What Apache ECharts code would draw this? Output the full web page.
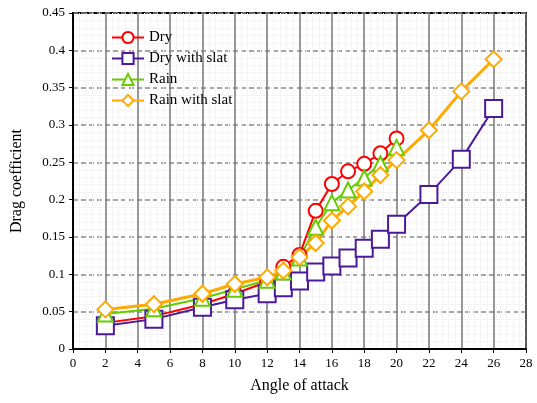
<!doctype html>
<html>
<head>
  <meta charset="UTF-8" />
  <title>Drag coefficient</title>
  <script src="https://cdn.jsdelivr.net/npm/echarts@6/dist/echarts.min.js"></script>
  <style>
    html, body { margin: 0; padding: 0; background: #fff; }
    #chart { width: 537px; height: 403px; }
  </style>
</head>
<body>
  <div id="chart"></div>
  <script>
    // angles of attack
    const anglesShort = [2, 5, 8, 10, 12, 13, 14, 15, 16, 17, 18, 19, 20];
    const anglesLong = [2, 5, 8, 10, 12, 13, 14, 15, 16, 17, 18, 19, 20, 22, 24, 26];
    // drag coefficients
    const dry = [0.035, 0.044, 0.060, 0.074, 0.090, 0.110, 0.126, 0.185, 0.221, 0.238, 0.248, 0.262, 0.282];
    const drySlat = [0.031, 0.040, 0.056, 0.066, 0.074, 0.082, 0.091, 0.103, 0.111, 0.122, 0.135, 0.147, 0.167, 0.207, 0.254, 0.322];
    const rain = [0.047, 0.054, 0.068, 0.080, 0.092, 0.103, 0.122, 0.163, 0.196, 0.213, 0.229, 0.248, 0.270];
    const rainSlat = [0.053, 0.060, 0.074, 0.087, 0.096, 0.105, 0.123, 0.142, 0.172, 0.191, 0.211, 0.233, 0.253, 0.293, 0.345, 0.388];

    const font = '"Liberation Serif", "DejaVu Serif", serif';
    const pairs = (xs, ys) => xs.map((x, i) => [x, ys[i]]);

    function line(name, xs, ys, color, symbol, size, width) {
      return {
        name: name, type: 'line', data: pairs(xs, ys),
        symbol: symbol, symbolSize: size,
        lineStyle: { color: color, width: width },
        itemStyle: { color: '#fff', borderColor: color, borderWidth: 2 },
        emphasis: { disabled: true }
      };
    }

    const chart = echarts.init(document.getElementById('chart'));
    chart.setOption({
      animation: false,
      backgroundColor: '#fff',
      grid: { left: 73, right: 11, top: 13, bottom: 54, show: true, borderColor: '#000', borderWidth: 2 },
      legend: {
        left: 106, top: 25, orient: 'vertical', itemGap: 6,
        itemWidth: 32, itemHeight: 14,
        textStyle: { fontFamily: font, fontSize: 15, color: '#000' },
        data: ['Dry', 'Dry with slat', 'Rain', 'Rain with slat']
      },
      xAxis: {
        type: 'value', min: 0, max: 28, interval: 2,
        name: 'Angle of attack', nameLocation: 'middle', nameGap: 29,
        nameTextStyle: { fontFamily: font, fontSize: 16, color: '#000' },
        axisLine: { lineStyle: { color: '#000', width: 2 } },
        axisTick: { show: true, length: 4, inside: false, lineStyle: { color: '#000' } },
        axisLabel: { fontFamily: font, fontSize: 13, color: '#000', margin: 8 },
        splitLine: { show: true, lineStyle: { color: '#777', width: 1.5 } },
        minorTick: { show: false, splitNumber: 5 },
        minorSplitLine: { show: true, lineStyle: { color: '#f4f4f4', width: 1 } }
      },
      yAxis: {
        type: 'value', min: 0, max: 0.45, interval: 0.05,
        name: 'Drag coefficient', nameLocation: 'middle', nameGap: 48,
        nameTextStyle: { fontFamily: font, fontSize: 16, color: '#000' },
        axisLine: { show: true, lineStyle: { color: '#000', width: 2 } },
        axisTick: { show: true, length: 4, lineStyle: { color: '#000' } },
        axisLabel: { fontFamily: font, fontSize: 13, color: '#000', margin: 8 },
        splitLine: { show: true, lineStyle: { color: '#888', width: 1.5, type: [5, 3] } },
        minorTick: { show: false, splitNumber: 5 },
        minorSplitLine: { show: true, lineStyle: { color: '#f4f4f4', width: 1 } }
      },
      series: [
        line('Dry', anglesShort, dry, '#ff0000', 'circle', 14, 2),
        line('Dry with slat', anglesLong, drySlat, '#4b1a9a', 'rect', 17, 2),
        line('Rain', anglesShort, rain, '#66cc00', 'triangle', 15, 2),
        line('Rain with slat', anglesLong, rainSlat, '#ffaa00', 'diamond', 16, 3)
      ]
    });
  </script>
</body>
</html>
